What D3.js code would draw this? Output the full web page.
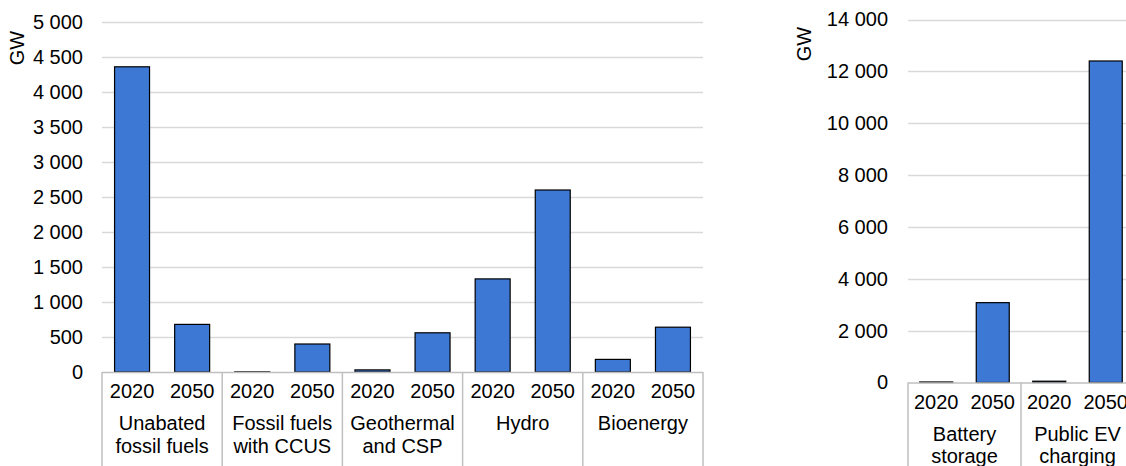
<!DOCTYPE html>
<html><head><meta charset="utf-8">
<script src="https://cdn.jsdelivr.net/npm/d3@7"></script>
<style>
html,body{margin:0;padding:0;background:#fff;overflow:hidden;}
svg{display:block;}
text{font-family:"Liberation Sans",Arial,sans-serif;font-size:20px;fill:#000;}
</style></head>
<body>
<svg id="c" width="1126" height="466"></svg>
<script>
const years = ["2020", "2050"];
const leftCategories = [["Unabated", "fossil fuels"], ["Fossil fuels", "with CCUS"], ["Geothermal", "and CSP"], ["Hydro"], ["Bioenergy"]];
const leftValues2020 = [4360, 2, 30, 1330, 180];
const leftValues2050 = [680, 400, 560, 2600, 640];
const leftTicks = [0, 500, 1000, 1500, 2000, 2500, 3000, 3500, 4000, 4500, 5000];

const rightCategories = [["Battery", "storage"], ["Public EV", "charging"]];
const rightValues2020 = [20, 50];
const rightValues2050 = [3080, 12400];
const rightTicks = [0, 2000, 4000, 6000, 8000, 10000, 12000, 14000];

const unit = "GW";
const fmt = d3.formatLocale({decimal: ".", thousands: " ", grouping: [3], currency: ["", ""]}).format(",d");
const FS = 20;

const svg = d3.select("#c");

function drawPanel(cfg) {
  const g = svg.append("g");
  const keys = [];
  const data = [];
  cfg.cats.forEach((c, i) => {
    years.forEach((y, j) => {
      const k = i + "-" + y;
      keys.push(k);
      data.push({key: k, v: j === 0 ? cfg.v2020[i] : cfg.v2050[i], year: y, ci: i});
    });
  });
  const x = d3.scaleBand().domain(keys).range([cfg.x0, cfg.x1]).paddingInner(cfg.pad).paddingOuter(cfg.pad / 2);
  const y = d3.scaleLinear().domain([0, cfg.max]).range([cfg.y0, cfg.yTop]);

  // gridlines
  g.append("g").selectAll("line").data(cfg.ticks.filter(t => t > 0)).join("line")
    .attr("x1", cfg.x0).attr("x2", cfg.x1)
    .attr("y1", d => Math.round(y(d)) + 0.5).attr("y2", d => Math.round(y(d)) + 0.5)
    .attr("stroke", "#d9d9d9").attr("stroke-width", 1.5);

  // y axis labels
  const yAxis = d3.axisLeft(y).tickValues(cfg.ticks).tickFormat(fmt).tickSize(0).tickPadding(cfg.tickPad);
  const ya = g.append("g").attr("transform", `translate(${cfg.x0},0)`).call(yAxis);
  ya.select(".domain").remove();
  ya.selectAll("text").attr("font-size", FS).attr("font-family", '"Liberation Sans",Arial,sans-serif').attr("fill", "#000");

  // bars
  g.append("g").selectAll("rect").data(data).join("rect")
    .attr("x", d => x(d.key)).attr("width", x.bandwidth())
    .attr("y", d => y(d.v)).attr("height", d => y(0) - y(d.v))
    .attr("fill", "#3c78d4").attr("stroke", "#000").attr("stroke-width", 1.2);

  // category axis
  const step = x.step();
  const groupW = step * years.length;
  const ax = g.append("g");
  ax.append("line").attr("x1", cfg.x0).attr("x2", cfg.x1).attr("y1", y(0) + 0.5).attr("y2", y(0) + 0.5)
    .attr("stroke", "#bfbfbf").attr("stroke-width", 1.5);
  const seps = d3.range(cfg.cats.length + 1).map(i => cfg.x0 + i * groupW);
  ax.selectAll("line.sep").data(seps).join("line").attr("class", "sep")
    .attr("x1", d => d).attr("x2", d => d).attr("y1", y(0)).attr("y2", 470)
    .attr("stroke", "#bfbfbf").attr("stroke-width", 1.5);

  ax.selectAll("text.yr").data(data).join("text").attr("class", "yr")
    .attr("x", d => x(d.key) + x.bandwidth() / 2).attr("y", y(0) + 19)
    .attr("text-anchor", "middle").attr("dominant-baseline", "central").text(d => d.year);

  cfg.cats.forEach((lines, i) => {
    const cx = cfg.x0 + (i + 0.5) * groupW;
    lines.forEach((ln, li) => {
      ax.append("text").attr("x", cx).attr("y", y(0) + 51 + li * 22.5)
        .attr("text-anchor", "middle").attr("dominant-baseline", "central").text(ln);
    });
  });

  // unit label
  g.append("text").attr("transform", `translate(${cfg.unitX},${cfg.unitY}) rotate(-90)`)
    .attr("text-anchor", "middle").attr("dominant-baseline", "central").text(unit);
}

drawPanel({cats: leftCategories, v2020: leftValues2020, v2050: leftValues2050, ticks: leftTicks, max: 5000,
  x0: 102, x1: 703, y0: 372, yTop: 22, pad: 0.418, tickPad: 19, unitX: 17, unitY: 48});
drawPanel({cats: rightCategories, v2020: rightValues2020, v2050: rightValues2050, ticks: rightTicks, max: 14000,
  x0: 908, x1: 1134, y0: 382.5, yTop: 19.5, pad: 0.416, tickPad: 20, unitX: 804, unitY: 44});
</script>
</body></html>
